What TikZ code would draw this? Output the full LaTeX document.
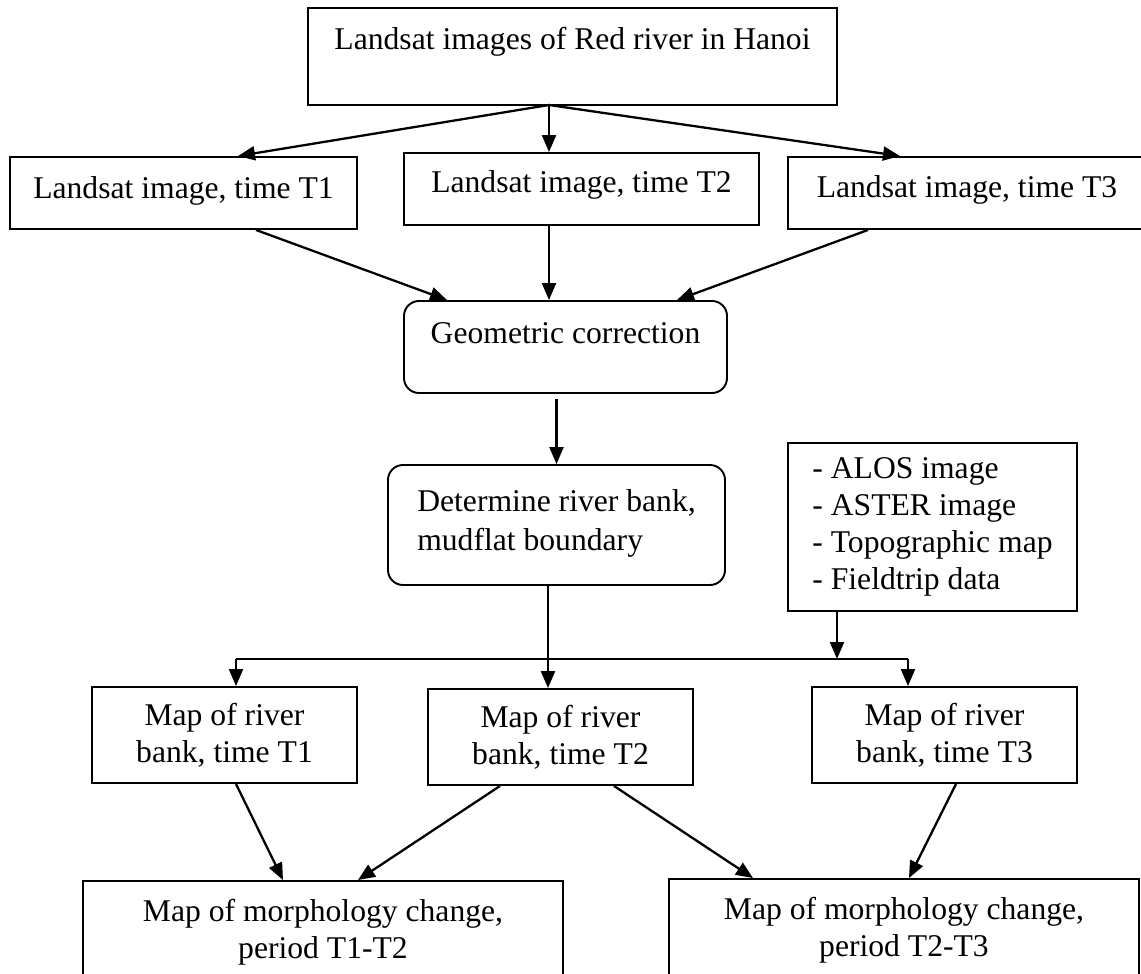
\documentclass[tikz,border=0pt]{standalone}
\usepackage{fontspec}
\setmainfont{Liberation Serif}
\usepackage{tikz}
\usetikzlibrary{calc}
\usetikzlibrary{arrows.meta}
\tikzset{>={Triangle[length=3.4mm,width=2.8mm]}}
\tikzset{box/.style={draw, line width=1.1pt, inner sep=0pt, align=center, font=\fontsize{18}{21}\selectfont}}
\tikzset{rbox/.style={box, rounded corners=3mm}}
\tikzset{flow/.style={->, line width=1.3pt}}

\begin{document}
\begin{tikzpicture}[x=0.2mm, y=-0.2mm]
                    \useasboundingbox (0,0) rectangle (1141,974);

                    \node[box, minimum width=105.8mm, minimum height=19.4mm, text height=0pt, text depth=2.6mm] (top) at (572.5,56.5) {Landsat images of Red river in Hanoi};
                    \node[box, minimum width=69.4mm, minimum height=14.4mm, text height=2mm, text depth=0pt] (t1) at (183.5,193) {Landsat image, time T1};
                    \node[box, minimum width=71mm, minimum height=14.4mm, text height=1.2mm, text depth=0pt] (t2) at (581.5,189) {Landsat image, time T2};
                    \node[box, minimum width=71.6mm, minimum height=14.4mm, text height=1.6mm, text depth=0pt] (t3) at (967,193) {Landsat image, time T3};
                    \node[rbox, minimum width=64.6mm, minimum height=18.4mm, text height=0pt, text depth=1.6mm] (geo) at (565.5,347) {Geometric correction};
                    \node[rbox, align=left, minimum width=67.4mm, minimum height=24mm, font=\fontsize{18}{22}\selectfont] (bank) at (556.5,525) {Determine river bank,\\mudflat boundary\\[-16pt]};
                    \node[box, align=left, minimum width=57.8mm, minimum height=33.6mm] (data) at (932.5,527) {- ALOS image\\- ASTER image\\- Topographic map\\- Fieldtrip data};
                    \node[box, minimum width=53mm, minimum height=19.2mm] (m1) at (224.5,735) {Map of river\\bank, time T1};
                    \node[box, minimum width=53mm, minimum height=19.2mm] (m2) at (560.5,737) {Map of river\\bank, time T2};
                    \node[box, minimum width=53mm, minimum height=19.2mm] (m3) at (944.5,735) {Map of river\\bank, time T3};
                    \node[box, minimum width=96mm, minimum height=20.4mm] (c12) at (323,932) {Map of morphology change,\\period T1-T2};
                    \node[box, minimum width=94mm, minimum height=20.4mm] (c23) at (904,930) {Map of morphology change,\\period T2-T3};

                    \coordinate (fork) at (549,105);
                    \coordinate (busL) at (236,659);
                    \coordinate (busR) at (908,659);
                    \coordinate (busM) at (548,659);
                    \coordinate (busD) at (837,659);

                    \draw[flow] (fork) -- ($(t1.north)+(54.5,0)$);
                    \draw[flow] (fork) -- (t2.north -| fork);
                    \draw[flow] (fork) -- ($(t3.north)+(-67,0)$);

                    \draw[flow] ($(t1.south)+(72.5,0)$) -- ($(geo.north)+(-118.5,0)$);
                    \draw[flow] (t2.south -| fork) -- (geo.north -| fork);
                    \draw[flow] ($(t3.south)+(-99,0)$) -- ($(geo.north)+(111.5,0)$);

                    \draw[flow] ($(geo.south -| bank.north)+(0,5)$) -- (bank.north);

                    \draw[line width=1.3pt] (busL) -- (busR);
                    \draw[flow] (bank.south -| busM) -- (m2.north -| busM);
                    \draw[flow] (data.south -| busD) -- (busD);
                    \draw[flow] (busL) -- (m1.north -| busL);
                    \draw[flow] (busR) -- (m3.north -| busR);

                    \draw[flow] ($(m1.south)+(11.5,0)$) -- ($(c12.north)+(-40,0)$);
                    \draw[flow] ($(m2.south)+(-60.5,0)$) -- ($(c12.north)+(35,0)$);
                    \draw[flow] ($(m2.south)+(53.5,0)$) -- ($(c23.north)+(-151,0)$);
                    \draw[flow] ($(m3.south)+(11.5,0)$) -- ($(c23.north)+(5,0)$);
                \end{tikzpicture}
\end{document}
